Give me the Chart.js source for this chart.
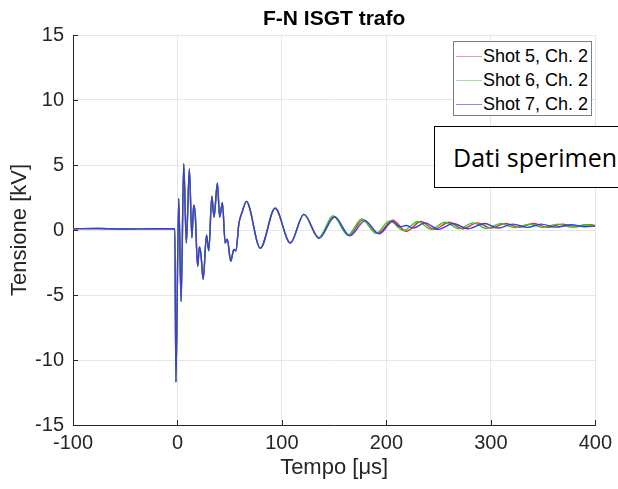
<!DOCTYPE html>
<html>
<head>
<meta charset="utf-8">
<script src="https://cdn.jsdelivr.net/npm/chart.js@4.4.1/dist/chart.umd.min.js"></script>
<style>
    body { margin: 0; background: #fff; overflow: hidden; }
    #contenitore { position: relative; width: 618px; height: 489px; overflow: hidden; }
    #grafico { position: absolute; left: 0; top: 0; }
    .legenda {
        position: absolute; left: 453px; top: 41px; width: 137px; height: 73px;
        border: 1px solid #7f7f7f; background: #fff;
        font-family: "Liberation Sans", Arial, sans-serif; font-size: 18px; color: #000;
    }
    .voce { position: absolute; left: 0; height: 24px; line-height: 24px; white-space: nowrap; }
    .voce span.linea { position: absolute; left: 2px; top: 12px; width: 26px; height: 0; border-top: 1px solid; }
    .voce span.testo { position: absolute; left: 29px; top: 0; }
    .nota {
        position: absolute; left: 434px; top: 126px; width: 220px; height: 60px;
        border: 1px solid #000; background: #fff;
        font-family: "Open Sans", sans-serif; font-size: 25px; line-height: 60px;
        padding-left: 18px; white-space: nowrap; color: #000;
    }
</style>
</head>
<body>
<div id="contenitore">
    <canvas id="grafico" width="618" height="489"></canvas>
    <div class="legenda" id="legenda"></div>
    <div class="nota">Dati sperimen</div>
</div>
<script>
// parte comune ai tre colpi (fino a ~135 us le curve coincidono)
const tempoComune = [-100, -75, -50, -25, -2.5, -1.5, 1.2, 3.5, 6, 8.5, 11.4, 13.8, 15.5, 17, 19.3, 21, 22.5,
    24.6, 27.8, 30, 32.9, 35, 38.2, 40.4, 43, 45.7, 47.7, 51, 54, 56, 58.8, 62, 66, 79.3, 93.5, 108, 121];
const tensioneComune = [0.1, 0.12, 0.08, 0.1, 0.1, -11.7, 2.4, -5.5, 5.1, -1.0, 4.7, -0.6, 1.9, 1.2, -2.8, -1.3, -1.9,
    -3.8, -0.4, -1.6, 2.6, 1.0, 3.6, 1.0, 2.1, -1.0, -0.7, -2.4, -1.5, -1.6, 0.5, 1.4, 2.2, -1.4, 1.67, -1.0, 1.2];

// code: oltre ~135 us le curve si sfasano
const tempoShot5 = [135.5, 150, 164, 178, 192, 206, 219, 233, 246, 260, 273, 287, 300, 314, 327, 341, 354, 368, 381, 395, 400];
const tensioneShot5 = [-0.6, 1.05, -0.4, 0.8, -0.25, 0.75, -0.1, 0.65, 0.05, 0.6, 0.1, 0.55, 0.15, 0.5, 0.2, 0.5, 0.2, 0.45, 0.25, 0.4, 0.35];

const tempoShot6 = [135, 149, 163, 176.5, 190, 203, 216.5, 230, 243, 256, 269.5, 283, 296, 310, 323, 337, 350, 364, 377, 391, 400];
const tensioneShot6 = [-0.6, 1.1, -0.4, 0.85, -0.25, 0.7, -0.05, 0.65, 0.05, 0.6, 0.1, 0.55, 0.12, 0.5, 0.18, 0.45, 0.2, 0.45, 0.22, 0.4, 0.3];

const tempoShot7 = [135.5, 150.5, 165, 179.5, 193, 206, 213, 219, 226, 237, 250, 264, 278, 294, 307, 321, 335, 348, 362, 377, 390, 400];
const tensioneShot7 = [-0.65, 1.0, -0.45, 0.7, -0.3, 0.65, 0.25, 0.35, 0.15, 0.55, 0.05, 0.5, 0.1, 0.5, 0.15, 0.45, 0.2, 0.45, 0.22, 0.4, 0.25, 0.3];

const etichette = ['Shot 5, Ch. 2', 'Shot 6, Ch. 2', 'Shot 7, Ch. 2'];
const colori = ['rgb(240,40,40)', 'rgb(40,205,40)', 'rgb(60,60,228)'];
const coloriLegenda = ['#f29a9a', '#9be39b', '#8a8ae6'];

const tickX = [-100, 0, 100, 200, 300, 400];
const tickY = [-15, -10, -5, 0, 5, 10, 15];

function punti(tempi, valori) {
    return tempi.map((t, i) => ({ x: t, y: valori[i] }));
}

const serie = [
    punti(tempoComune, tensioneComune).concat(punti(tempoShot5, tensioneShot5)),
    punti(tempoComune, tensioneComune).concat(punti(tempoShot6, tensioneShot6)),
    punti(tempoComune, tensioneComune).concat(punti(tempoShot7, tensioneShot7))
];

const fontBase = "'Liberation Sans', Arial, sans-serif";

// titolo e tacche interne stile MATLAB
const decorazioni = {
    id: 'decorazioni',
    afterDraw(chart) {
        const ctx = chart.ctx;
        const area = chart.chartArea;
        const sx = chart.scales.x, sy = chart.scales.y;
        ctx.save();
        ctx.strokeStyle = '#262626';
        ctx.lineWidth = 1;
        ctx.beginPath();
        tickX.forEach(v => {
            const px = Math.round(sx.getPixelForValue(v)) + 0.5;
            ctx.moveTo(px, area.bottom);
            ctx.lineTo(px, area.bottom - 5);
        });
        tickY.forEach(v => {
            const py = Math.round(sy.getPixelForValue(v)) + 0.5;
            ctx.moveTo(area.left, py);
            ctx.lineTo(area.left + 5, py);
        });
        ctx.stroke();
        ctx.fillStyle = '#000';
        ctx.font = "bold 21px " + fontBase;
        ctx.textAlign = 'center';
        ctx.textBaseline = 'middle';
        ctx.fillText('F-N ISGT trafo', (area.left + area.right) / 2, 19);
        ctx.restore();
    }
};

new Chart(document.getElementById('grafico'), {
    type: 'line',
    data: {
        datasets: etichette.map((nome, i) => ({
            label: nome,
            data: serie[i],
            borderColor: colori[i],
            borderWidth: 1.4,
            pointRadius: 0,
            cubicInterpolationMode: 'monotone',
            order: 3 - i
        }))
    },
    options: {
        responsive: false,
        devicePixelRatio: 1,
        animation: false,
        layout: { padding: { top: 35, right: 20, left: 0, bottom: 0 } },
        plugins: { legend: { display: false }, tooltip: { enabled: false } },
        scales: {
            x: {
                type: 'linear', min: -100, max: 400,
                afterBuildTicks: s => { s.ticks = tickX.map(v => ({ value: v })); },
                afterFit: s => { s.height = 64; },
                grid: { color: '#e6e6e6', drawTicks: false },
                border: { color: '#262626' },
                ticks: { padding: 6, color: '#262626', font: { family: fontBase, size: 20 }, maxRotation: 0 },
                title: { display: true, text: 'Tempo [μs]', color: '#262626', font: { family: fontBase, size: 22 }, padding: { top: 0, bottom: 8 } }
            },
            y: {
                type: 'linear', min: -15, max: 15,
                afterBuildTicks: s => { s.ticks = tickY.map(v => ({ value: v })); },
                afterFit: s => { s.width = 73; },
                grid: { color: '#e6e6e6', drawTicks: false },
                border: { color: '#262626' },
                ticks: { padding: 9, color: '#262626', font: { family: fontBase, size: 20 } },
                title: { display: true, text: 'Tensione [kV]', color: '#262626', font: { family: fontBase, size: 22 }, padding: { top: 7, bottom: 0 } }
            }
        }
    },
    plugins: [decorazioni]
});

// legenda in HTML
const legenda = document.getElementById('legenda');
etichette.forEach((nome, i) => {
    const voce = document.createElement('div');
    voce.className = 'voce';
    voce.style.top = (2 + i * 24) + 'px';
    voce.innerHTML = `<span class="linea" style="border-color:${coloriLegenda[i]}"></span><span class="testo">${nome}</span>`;
    legenda.appendChild(voce);
});
</script>
</body>
</html>
